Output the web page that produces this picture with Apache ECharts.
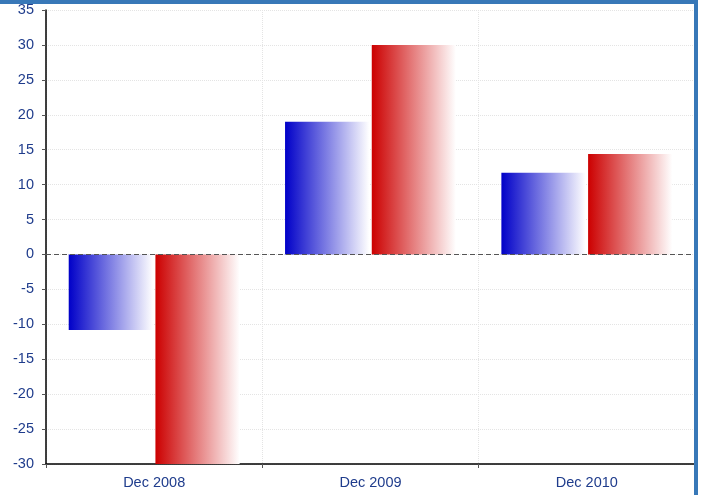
<!DOCTYPE html>
<html><head><meta charset="utf-8">
<script src="https://cdn.jsdelivr.net/npm/echarts@6/dist/echarts.min.js"></script>
<style>html,body{margin:0;padding:0;background:#fff}#c{width:708px;height:495px}</style>
</head><body><div id="c"></div>
<script>
var categories = ['Dec 2008', 'Dec 2009', 'Dec 2010'];
var blueValues = [-10.8, 19.0, 11.7];
var redValues = [-30, 30.0, 14.4];
var yTicks = {min: -30, max: 35, interval: 5};

function grad(c) {
  return new echarts.graphic.LinearGradient(0, 0, 1, 0, [
    {offset: 0, color: c}, {offset: 1, color: 'rgba(255,255,255,1)'}
  ]);
}
var labelColor = '#1f3c8c';
var chart = echarts.init(document.getElementById('c'), null, {renderer: 'canvas'});
chart.setOption({
  animation: false,
  grid: {left: 46, right: 13, top: 10, bottom: 31, containLabel: false},
  graphic: [
    {type: 'rect', shape: {x: 0, y: 0, width: 698, height: 4}, style: {fill: '#3878b8'}, z: 100},
    {type: 'rect', shape: {x: 694, y: 0, width: 4, height: 495}, style: {fill: '#3878b8'}, z: 100}
  ],
  xAxis: {
    type: 'category', data: categories,
    axisLine: {show: true, onZero: false, lineStyle: {color: '#000', width: 1.5}},
    axisTick: {show: true, length: 4, lineStyle: {color: '#555'}},
    axisLabel: {color: labelColor, fontFamily: 'Liberation Sans, Arial', fontSize: 14.5, margin: 11},
    splitLine: {show: true, lineStyle: {color: '#e4e4e4', type: 'dotted'}}
  },
  yAxis: {
    type: 'value', min: yTicks.min, max: yTicks.max, interval: yTicks.interval,
    axisLine: {show: true, lineStyle: {color: '#000', width: 1.5}},
    axisTick: {show: true, length: 4, lineStyle: {color: '#555'}},
    axisLabel: {color: labelColor, fontFamily: 'Liberation Sans, Arial', fontSize: 14.5, margin: 12},
    splitLine: {show: true, lineStyle: {color: '#e4e4e4', type: 'dotted'}}
  },
  series: [
    {type: 'bar', data: blueValues, barGap: '3%', barCategoryGap: '21%',
     itemStyle: {color: grad('#0000c8')},
     markLine: {silent: true, symbol: 'none', label: {show: false},
       lineStyle: {color: '#555', type: [5, 3], width: 1.2},
       data: [{yAxis: 0}]}},
    {type: 'bar', data: redValues, itemStyle: {color: grad('#cc0000')}}
  ]
});
</script></body></html>
